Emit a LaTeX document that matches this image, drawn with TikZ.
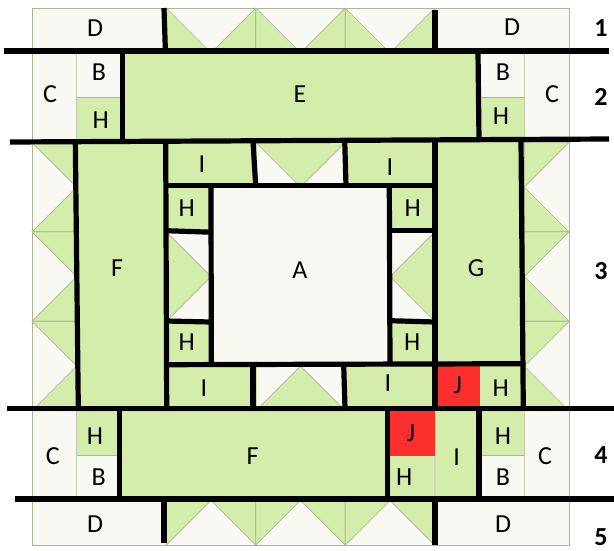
\documentclass[tikz,border=0pt]{standalone}
\usepackage{fontspec}
\setmainfont{Carlito}
\definecolor{patchwhite}{HTML}{F9F9F3}
\definecolor{patchgreen}{HTML}{D5EDAB}
\definecolor{patchred}{HTML}{FD2E2E}
\definecolor{edgegrey}{HTML}{A9B596}
\tikzset{
  white patch/.style={fill=patchwhite},
  green patch/.style={fill=patchgreen,draw=edgegrey,line width=0.7pt,line join=round},
  soft green/.style={fill=patchgreen,draw=patchgreen!80!edgegrey,line width=0.5pt},
  red patch/.style={fill=patchred},
  frame line/.style={draw=edgegrey,line width=0.8pt},
  seam/.style={draw=black,line width=5.2pt},
  lab/.style={font=\fontsize{26}{26}\selectfont,inner sep=0pt},
  rownum/.style={font=\fontsize{26}{26}\selectfont\bfseries,inner sep=0pt},
}
\begin{document}
\begin{tikzpicture}[x=1pt,y=-1pt]
\useasboundingbox (0,0) rectangle (614,550);
% base
\fill[white patch] (32,8) rectangle (569,545);
% large plain green patches
\path[soft green] (121.5,52.75) rectangle (479.5,142.25);
\path[soft green] (76.75,142.25) rectangle (166.25,410.75);
\path[soft green] (434.75,142.25) rectangle (524.25,366);
\path[soft green] (121.5,410.75) rectangle (390,500.25);
\path[soft green] (166.25,142.25) rectangle (255.75,187);
\path[soft green] (345.25,142.25) rectangle (434.75,187);
\path[soft green] (166.25,366) rectangle (255.75,410.75);
\path[soft green] (345.25,366) rectangle (434.75,410.75);
\path[soft green] (434.75,410.75) rectangle (479.5,500.25);
% H squares
\foreach \x/\y in {76.75/97.5,479.5/97.5,166.25/187,390/187,166.25/321.25,390/321.25,479.5/366,76.75/410.75,479.5/410.75,390/455.5}
  \path[soft green] (\x,\y) rectangle ++(44.75,44.75);
% thin edges of B, C and H
\foreach \x in {76.75,524.25}{
  \draw[frame line,edgegrey!70] (\x,52.75) -- (\x,142.25);
  \draw[frame line,edgegrey!70] (\x,410.75) -- (\x,500.25);
}
\draw[frame line] (76.75,97.5) -- (121.5,97.5);
\draw[frame line] (479.5,97.5) -- (524.25,97.5);
\draw[frame line] (76.75,455.5) -- (121.5,455.5);
\draw[frame line] (479.5,455.5) -- (524.25,455.5);
\draw[frame line] (390,455.5) -- (434.75,455.5);
\draw[frame line,edgegrey!60] (434.75,410.75) -- (434.75,500.25);
% red squares
\fill[red patch] (434.75,366) rectangle ++(44.75,44.75);
\fill[red patch] (390,410.75) rectangle ++(44.75,44.75);
% geese, top and bottom rows
\foreach \x in {166.25,255.75,345.25}{
  \path[green patch] (\x,8) -- ++(44.75,44.75) -- ++(-44.75,0) -- cycle;
  \path[green patch] (\x+89.5,8) -- ++(-44.75,44.75) -- ++(44.75,0) -- cycle;
  \path[green patch] (\x,545) -- ++(44.75,-44.75) -- ++(-44.75,0) -- cycle;
  \path[green patch] (\x+89.5,545) -- ++(-44.75,-44.75) -- ++(44.75,0) -- cycle;
}
% geese, left and right columns
\foreach \y in {142.25,231.75,321.25}{
  \path[green patch] (32,\y) -- ++(44.75,0) -- ++(0,44.75) -- cycle;
  \path[green patch] (32,\y+89.5) -- ++(44.75,0) -- ++(0,-44.75) -- cycle;
  \path[green patch] (569,\y) -- ++(-44.75,0) -- ++(0,44.75) -- cycle;
  \path[green patch] (569,\y+89.5) -- ++(-44.75,0) -- ++(0,-44.75) -- cycle;
}
% inner geese
\path[green patch] (255.75,142.25) -- (345.25,142.25) -- (300.5,187) -- cycle;
\path[green patch] (255.75,410.75) -- (345.25,410.75) -- (300.5,366) -- cycle;
\path[green patch] (166.25,231.75) -- (211,276.5) -- (166.25,321.25) -- cycle;
\path[green patch] (434.75,231.75) -- (390,276.5) -- (434.75,321.25) -- cycle;
% outer frame
\draw[frame line] (32,8) rectangle (569,545);
% long horizontal seams
\coordinate (h1a) at (4,51);      \coordinate (h1b) at (609,51);
\coordinate (h2a) at (10,142);    \coordinate (h2b) at (609,139);
\coordinate (h3a) at (7,408.3);   \coordinate (h3b) at (614,408.3);
\coordinate (h4a) at (15,499);    \coordinate (h4b) at (614,499);
\draw[seam] (h1a) -- (h1b);
\draw[seam] (h2a) -- (h2b);
\draw[seam] (h3a) -- (h3b);
\draw[seam] (h4a) -- (h4b);
% row 1
\draw[seam] (164,8) -- (165.4,51);
\draw[seam] (435,10) -- (435,51);
% row 2
\draw[seam] (122.3,51) -- (122.3,141);
\draw[seam] (478,51) -- (479,140);
% row 3 long verticals
\draw[seam] (75.3,141) -- (78.3,408);
\draw[seam] (165.7,141) -- (166.7,408);
\draw[seam] (435,140) -- (435,408);
\draw[seam] (521,140) -- (523.3,408);
% row 3 inner
\draw[seam] (253,141) -- (255.7,186);
\draw[seam] (344.7,140) -- (346,186);
\draw[seam] (166,185.7) -- (435,185.7);
\draw[seam] (211,186) -- (211.3,364);
\draw[seam] (389.3,186) -- (390,364);
\draw[seam] (166,230.7) -- (211,232.2);
\draw[seam] (390,230.3) -- (435,230.3);
\draw[seam] (166,321) -- (211,322);
\draw[seam] (390,320.7) -- (435,322);
\draw[seam] (167,364.7) -- (523,363.7);
\draw[seam] (253,365) -- (253,408);
\draw[seam] (343.7,365) -- (345,408);
% row 4
\draw[seam] (119.7,408) -- (119.7,499);
\draw[seam] (387.7,408) -- (387.7,499);
\draw[seam] (479,408) -- (479,495.5);
% row 5
\draw[seam] (164,499) -- (164,543);
\draw[seam] (435,499) -- (435,545);
% labels
\node[lab] (d1) at (95,28) {D};
\node[lab] (d2) at (512,27) {D};
\node[lab] (c1) at (50,94) {C};
\node[lab] (b1) at (99,71.7) {B};
\node[lab] (h1) at (100.7,120) {H};
\node[lab] (e1) at (300,94) {E};
\node[lab] (b2) at (503,72) {B};
\node[lab] (h2) at (501,116) {H};
\node[lab] (c2) at (552,94) {C};
\node[lab] (f1) at (117,268) {F};
\node[lab] (i1) at (202,164) {I};
\node[lab] (i2) at (390,167) {I};
\node[lab] (h3) at (186.7,208) {H};
\node[lab] (h4) at (412.7,208) {H};
\node[lab] (a1) at (300,270) {A};
\node[lab] (g1) at (476,268) {G};
\node[lab] (h5) at (186.7,341.7) {H};
\node[lab] (h6) at (412.3,341.7) {H};
\node[lab] (i3) at (204,387.7) {I};
\node[lab] (i4) at (388,383.3) {I};
\node[lab] (j1) at (457.7,385) {J};
\node[lab] (h7) at (500.7,387.7) {H};
\node[lab] (h8) at (95,436) {H};
\node[lab] (c3) at (52.7,456) {C};
\node[lab] (b3) at (98.7,476.7) {B};
\node[lab] (f2) at (252.7,456) {F};
\node[lab] (j2) at (411,433) {J};
\node[lab] (h9) at (404.3,476.7) {H};
\node[lab] (i5) at (456.7,456.7) {I};
\node[lab] (h10) at (503,435.7) {H};
\node[lab] (b4) at (503,476.7) {B};
\node[lab] (c4) at (545,456) {C};
\node[lab] (d3) at (95,524.3) {D};
\node[lab] (d4) at (503,524.3) {D};
% row numbers
\node[rownum] (r1) at (601,28) {1};
\node[rownum] (r2) at (601,97) {2};
\node[rownum] (r3) at (601,271) {3};
\node[rownum] (r4) at (601,455) {4};
\node[rownum] (r5) at (601,537) {5};
\end{tikzpicture}
\end{document}
